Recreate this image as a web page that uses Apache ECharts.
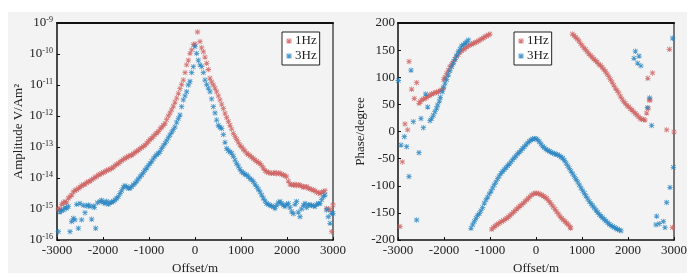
<!DOCTYPE html>
<html>
<head>
<meta charset="utf-8">
<script src="https://cdn.jsdelivr.net/npm/echarts@6/dist/echarts.min.js"></script>
<style>
  html, body { margin: 0; padding: 0; background: #fff; }
  #main { width: 700px; height: 280px; }
</style>
</head>
<body>
<div id="main"></div>
<script>
// amplitude, stored as log10(V/Am^2)
var ampX1 = [-2971,-2935,-2900,-2862,-2826,-2790,-2754,-2717,-2680,-2645,-2609,-2572,-2536,-2500,-2464,-2428,-2391,-2355,-2319,-2283,-2246,-2210,-2174,-2138,-2100,-2065,-2029,-1993,-1957,-1920,-1884,-1848,-1811,-1775,-1739,-1703,-1667,-1630,-1594,-1558,-1522,-1486,-1450,-1413,-1376,-1341,-1304,-1268,-1232,-1196,-1159,-1123,-1087,-1050,-1015,-978,-941,-906,-870,-833,-797,-761,-725,-689,-652,-616,-580,-543,-507,-471,-435,-398,-362,-326,-290,-254,-217,-181,-145,-109,-72,-36,0,55,109,145,181,217,254,290,326,362,398,435,471,507,543,580,616,652,689,725,761,797,833,870,906,942,978,1015,1050,1087,1123,1160,1196,1232,1268,1304,1341,1377,1413,1450,1486,1522,1558,1594,1630,1667,1703,1739,1775,1811,1848,1884,1920,1957,1993,2029,2065,2102,2138,2174,2210,2246,2283,2319,2355,2391,2428,2464,2500,2536,2572,2609,2645,2681,2717,2754,2790,2826,2862,2899,2935,2971,3000];
var ampLog1 = [-15.0,-15.0,-14.85,-14.8,-14.76,-14.8,-14.65,-14.6,-14.55,-14.45,-14.4,-14.38,-14.33,-14.3,-14.25,-14.22,-14.2,-14.15,-14.12,-14.1,-14.06,-14.02,-13.98,-13.95,-13.9,-13.88,-13.85,-13.82,-13.8,-13.76,-13.74,-13.71,-13.69,-13.65,-13.6,-13.56,-13.53,-13.48,-13.44,-13.4,-13.36,-13.34,-13.3,-13.28,-13.26,-13.22,-13.18,-13.14,-13.1,-13.06,-13.02,-12.98,-12.94,-12.88,-12.82,-12.76,-12.72,-12.66,-12.6,-12.55,-12.5,-12.42,-12.36,-12.3,-12.24,-12.12,-12.0,-11.9,-11.8,-11.68,-11.55,-11.42,-11.27,-11.12,-10.98,-10.84,-10.6,-10.35,-10.2,-9.98,-9.87,-9.7,-9.68,-9.29,-9.6,-9.8,-9.93,-10.1,-10.3,-10.5,-10.78,-10.9,-11.0,-11.1,-11.22,-11.35,-11.48,-11.62,-11.76,-11.91,-12.05,-12.18,-12.3,-12.42,-12.56,-12.66,-12.75,-12.85,-12.94,-13.0,-13.07,-13.13,-13.2,-13.24,-13.28,-13.33,-13.37,-13.42,-13.46,-13.5,-13.53,-13.6,-13.68,-13.76,-13.8,-13.82,-13.84,-13.85,-13.85,-13.82,-13.86,-13.84,-13.85,-13.88,-13.9,-13.93,-13.96,-14.1,-14.2,-14.22,-14.23,-14.2,-14.25,-14.22,-14.23,-14.26,-14.3,-14.28,-14.28,-14.33,-14.35,-14.37,-14.39,-14.42,-14.45,-14.48,-14.5,-14.46,-14.44,-14.41,-14.98,-15.0,-15.03,-15.73,-14.87];

var ampX3 = [-2971,-2935,-2899,-2862,-2826,-2790,-2754,-2717,-2681,-2645,-2609,-2572,-2536,-2500,-2464,-2428,-2391,-2355,-2319,-2283,-2246,-2210,-2189,-2159,-2120,-2065,-2029,-1993,-1957,-1920,-1884,-1848,-1811,-1775,-1739,-1703,-1667,-1630,-1594,-1558,-1522,-1486,-1450,-1413,-1377,-1341,-1304,-1268,-1232,-1196,-1159,-1123,-1087,-1050,-1015,-978,-942,-906,-870,-833,-797,-761,-725,-689,-652,-616,-580,-543,-507,-471,-435,-398,-362,-326,-290,-254,-217,-181,-145,-109,-72,-37,0,36,72,109,145,181,217,254,290,326,362,398,435,471,507,543,580,616,652,689,725,761,797,833,870,906,942,978,1015,1050,1087,1123,1160,1196,1232,1268,1304,1341,1377,1413,1450,1486,1522,1558,1594,1630,1667,1703,1739,1775,1811,1848,1884,1920,1957,1993,2029,2065,2102,2138,2174,2210,2246,2283,2319,2355,2391,2428,2464,2500,2536,2572,2609,2645,2681,2717,2754,2790,2826,2862,2899,2935,2971,3000];
var ampLog3 = [-15.73,-15.1,-15.05,-15.03,-14.95,-14.98,-14.92,-15.73,-15.4,-15.3,-15.35,-14.85,-15.62,-14.82,-15.35,-14.88,-15.12,-14.9,-14.87,-14.92,-15.33,-14.9,-14.95,-15.62,-14.8,-14.76,-14.72,-14.78,-14.82,-14.75,-14.85,-14.8,-14.78,-14.75,-14.71,-14.65,-14.6,-14.5,-14.4,-14.3,-14.25,-14.28,-14.33,-14.33,-14.28,-14.22,-14.17,-14.1,-14.03,-13.96,-13.9,-13.82,-13.74,-13.68,-13.6,-13.53,-13.46,-13.38,-13.31,-13.25,-13.2,-13.15,-13.05,-12.96,-12.88,-12.8,-12.7,-12.61,-12.52,-12.44,-12.35,-12.2,-12.08,-11.97,-11.7,-11.48,-11.35,-11.22,-11.0,-10.89,-10.6,-10.41,-9.76,-9.98,-10.2,-10.35,-10.41,-10.6,-10.84,-10.98,-11.1,-11.22,-11.45,-11.7,-11.9,-12.13,-12.3,-12.36,-12.4,-12.6,-12.85,-13.05,-13.12,-13.16,-13.2,-13.3,-13.42,-13.53,-13.62,-13.72,-13.8,-13.84,-13.88,-13.9,-13.96,-14.02,-14.06,-14.12,-14.2,-14.28,-14.36,-14.45,-14.55,-14.65,-14.74,-14.82,-14.85,-14.88,-14.9,-14.93,-14.98,-14.88,-14.8,-14.76,-14.82,-14.88,-14.92,-14.85,-14.82,-14.95,-15.09,-15.15,-14.85,-14.76,-15.1,-15.25,-15.0,-14.88,-14.82,-14.95,-14.86,-14.87,-14.88,-14.9,-14.92,-14.85,-14.82,-14.82,-14.7,-14.6,-14.55,-15.03,-15.25,-15.46,-15.14,-15.14];

// phase, degrees
var phX1 = [-2957,-2906,-2848,-2790,-2761,-2703,-2646,-2594,-2544,-2515,-2485,-2449,-2413,-2377,-2341,-2304,-2268,-2232,-2196,-2160,-2124,-2087,-2051,-2015,-2005,-1978,-1942,-1906,-1870,-1833,-1797,-1761,-1725,-1688,-1652,-1616,-1580,-1543,-1507,-1471,-1435,-1398,-1362,-1326,-1290,-1254,-1217,-1181,-1145,-1109,-1072,-1036,-1000,-963,-927,-891,-854,-818,-782,-746,-710,-674,-637,-601,-565,-528,-492,-456,-420,-384,-348,-311,-275,-239,-202,-166,-130,-93,-57,-21,15,51,88,124,160,196,233,269,305,341,377,414,450,486,522,559,595,631,667,703,739,754,790,826,862,898,934,970,1006,1042,1078,1114,1150,1186,1222,1258,1294,1330,1366,1402,1438,1474,1510,1546,1582,1618,1654,1690,1726,1762,1798,1834,1870,1906,1942,1978,2014,2050,2086,2122,2158,2194,2230,2266,2298,2334,2370,2406,2440,2464,2480,2430,2533,2841,2899,2965,3000];
var phase1 = [-175,-56,14,3,129,78,61,90,52,55,58,60,61,63,65.5,67,69,70,71.6,72.5,73.4,75,76.5,80,96,100,107,113,119.5,124,128.7,133,138,142,146,149,151,153,156,158,159.5,161,162.5,163.7,165,167,168.7,170.5,172.5,174.8,176,178,179.7,-180,-177,-174.5,-172,-170,-168,-166,-164,-162,-160,-157.5,-155,-152,-149,-146,-143,-140,-137.5,-135,-132,-129,-126,-123,-120,-117,-115,-114,-114,-114.5,-115.5,-117,-119,-121,-123,-127,-131,-135,-139,-143.5,-148,-152,-156,-160,-163,-166,-169,-172,-176,-178,179.7,177,174,170.5,167,162,158,154,151,147,143,140,137,133.5,131,128,124,121.5,118.5,114.5,110.5,106,101,96,91,85.5,80,75.5,71,65,60,55.5,52,48,45.5,42,39.5,36.5,33,30.5,27,24,22.5,22,21,34,43,58,58,98,108,3,151.5,-177,-1];

var phX3 = [-2993,-2935,-2862,-2812,-2761,-2717,-2667,-2594,-2544,-2500,-2449,-2398,-2355,-2304,-2268,-2232,-2196,-2160,-2137,-2100,-2080,-2037,-2007,-1978,-1942,-1906,-1870,-1833,-1797,-1761,-1725,-1688,-1652,-1616,-1580,-1543,-1507,-1471,-1413,-1377,-1341,-1305,-1269,-1232,-1196,-1160,-1124,-1087,-1051,-1015,-978,-942,-906,-870,-833,-797,-761,-725,-689,-652,-616,-580,-543,-507,-471,-435,-398,-362,-326,-290,-254,-217,-181,-145,-109,-72,-36,0,36,72,109,145,181,217,254,290,326,362,398,435,471,507,543,580,616,652,689,725,761,797,833,870,906,942,978,1015,1051,1087,1124,1160,1196,1232,1268,1305,1341,1377,1413,1450,1486,1522,1558,1594,1630,1667,1703,1739,1775,1811,1848,2130,2160,2210,2240,2280,2420,2470,2515,2609,2623,2681,2768,2804,2841,2913,2986,2971];
var phase3 = [94,-25,-9.5,-28,-83,113,18,-163,-39,24,7,69,45,20,24,30,36.5,43,49,56,63,73.4,82,89,96,104,112,119.5,126,133,140,147,152,157.6,160,162.6,165,168.7,-178.4,-172,-166,-160,-155,-151,-146,-140,-132,-126,-121,-115,-110,-104,-98,-93,-87,-82,-77,-73.5,-70,-67,-63,-60,-56,-52,-48.5,-45,-41,-38,-35,-31.5,-28,-24.5,-21,-18,-15.5,-14,-13,-13.5,-15,-19,-23,-27,-30,-32.5,-34.5,-36.5,-38,-39.5,-41,-42,-43,-44.5,-47,-49,-53,-58,-63,-68,-73,-78,-83,-88,-93,-98.5,-104,-109,-114,-119,-124,-129,-133,-137,-141,-145,-149,-153,-156,-159,-162,-165,-168,-171,-173,-175,-177,-178.5,-180,-181.5,-183,135,148,126,139,121,44,62,11,-172,-156,-170,-166,-177,-131,-103,-66,172];

var legendNames = ['1Hz', '3Hz'];
var red = '#cf6464';
var blue = '#2a86c2';
var font = 'Liberation Serif';
// asterisk marker
var star = 'path://M4.3 0L5.7 0L5.7 10L4.3 10Z M0 4.3L10 4.3L10 5.7L0 5.7Z M1.5 0.5L9.5 8.5L8.5 9.5L0.5 1.5Z M8.5 0.5L9.5 1.5L1.5 9.5L0.5 8.5Z';

function zip(xs, ys, fn) {
  return xs.map(function (x, i) { return [x, fn ? fn(ys[i]) : ys[i]]; });
}
function pow10(e) { return Math.pow(10, e); }
function plain(v) { return String(v); }

var txt = { color: '#222', fontFamily: font, fontSize: 13 };

function bottomAxis(g) {
  return {
    gridIndex: g, type: 'value', min: -3000, max: 3000, interval: 1000,
    name: 'Offset/m', nameLocation: 'middle', nameGap: 21, nameTextStyle: txt,
    axisLine: { onZero: false, lineStyle: { color: '#111', width: 1.5 } },
    axisTick: { inside: true, length: 3, lineStyle: { color: '#111' } },
    axisLabel: Object.assign({ margin: 4, formatter: plain }, txt),
    splitLine: { show: false }
  };
}
function frameAxis(g, pos, col) {
  return {
    gridIndex: g, type: 'value', position: pos, min: 0, max: 1,
    axisLine: { show: true, onZero: false, lineStyle: { color: col, width: 2 } },
    axisTick: { show: false }, axisLabel: { show: false }, splitLine: { show: false }
  };
}
function legendAt(left) {
  return {
    left: left, top: 32, orient: 'vertical', data: legendNames,
    backgroundColor: '#fff', borderColor: '#222', borderWidth: 1,
    padding: [2, 3, 2, 4], itemGap: 1, itemWidth: 6, itemHeight: 6,
    textStyle: { color: '#222', fontFamily: font, fontSize: 13, lineHeight: 14, padding: [0, 0, 0, -2] }
  };
}
function scatter(name, xi, yi, data, col) {
  return {
    name: name, type: 'scatter', xAxisIndex: xi, yAxisIndex: yi, data: data,
    symbol: star, symbolSize: 5.5, itemStyle: { color: col, opacity: 0.85 }
  };
}

var chart = echarts.init(document.getElementById('main'));
chart.setOption({
  animation: false,
  backgroundColor: '#fff',
  graphic: [{
    type: 'rect', z: -10, silent: true,
    shape: { x: 8, y: 12, width: 679, height: 261 },
    style: { fill: '#f3f3f3' }
  }],
  grid: [
    { left: 57, top: 23, width: 276, height: 217 },
    { left: 398, top: 23, width: 276, height: 217 }
  ],
  legend: [legendAt(282), legendAt(514)],
  xAxis: [bottomAxis(0), bottomAxis(1), frameAxis(0, 'top', '#111'), frameAxis(1, 'top', '#111')],
  yAxis: [
    {
      gridIndex: 0, type: 'log', logBase: 10, min: 1e-16, max: 1e-9, splitNumber: 7,
      name: 'Amplitude V/Am²', nameLocation: 'middle', nameGap: 31, nameTextStyle: txt,
      axisLine: { onZero: false, lineStyle: { color: '#111', width: 1.5 } },
      axisTick: { inside: true, length: 3, lineStyle: { color: '#111' } },
      minorTick: { show: false },
      splitLine: { show: false },
      axisLabel: {
        margin: 4, color: '#222', fontFamily: font, fontSize: 13,
        formatter: function (v) {
          return '{b|10}{s|' + Math.round(Math.log10(v)) + '}';
        },
        rich: {
          b: { fontFamily: font, fontSize: 13, color: '#222', lineHeight: 14 },
          s: { fontFamily: font, fontSize: 8, color: '#222', verticalAlign: 'top', lineHeight: 9 }
        }
      }
    },
    {
      gridIndex: 1, type: 'value', min: -200, max: 200, interval: 50,
      name: 'Phase/degree', nameLocation: 'middle', nameGap: 23, nameTextStyle: txt,
      axisLine: { onZero: false, lineStyle: { color: '#111', width: 1.5 } },
      axisTick: { inside: true, length: 3, lineStyle: { color: '#111' } },
      splitLine: { show: false },
      axisLabel: Object.assign({ margin: 3 }, txt)
    },
    frameAxis(0, 'right', '#777'),
    frameAxis(1, 'right', '#777')
  ],
  series: [
    scatter('1Hz', 0, 0, zip(ampX1, ampLog1, pow10), red),
    scatter('3Hz', 0, 0, zip(ampX3, ampLog3, pow10), blue),
    scatter('1Hz', 1, 1, zip(phX1, phase1), red),
    scatter('3Hz', 1, 1, zip(phX3, phase3), blue)
  ]
});
</script>
</body>
</html>
